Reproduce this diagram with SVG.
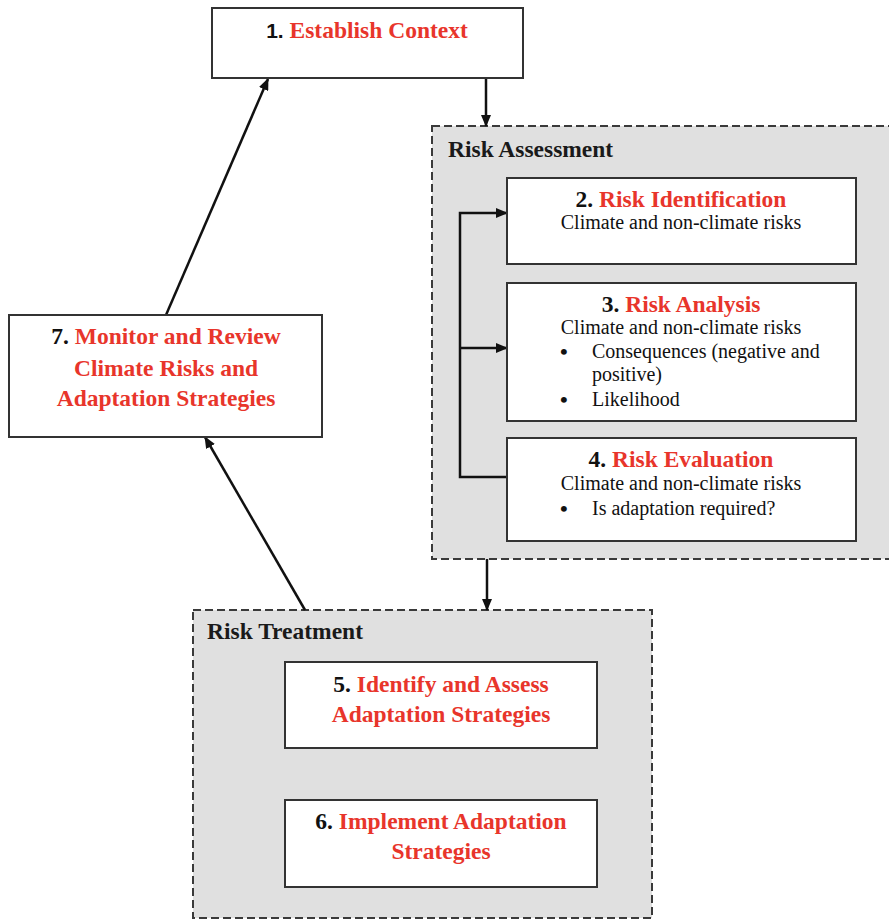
<svg xmlns="http://www.w3.org/2000/svg" width="889" height="920" viewBox="0 0 889 920">
  <style>
    .box { fill: #ffffff; stroke: #333333; stroke-width: 2; }
    .group { fill: #e0e0e0; stroke: #3a3a3a; stroke-width: 2; stroke-dasharray: 8 4; }
    .link { fill: none; stroke: #111111; stroke-width: 2.5; }
    .head { font-family: "Liberation Serif", "Times New Roman", serif; font-weight: bold; font-size: 23.5px; fill: #e8352b; }
    .num { fill: #111111; }
    .numsans { fill: #111111; font-family: "Liberation Sans", Arial, sans-serif; font-size: 21px; }
    .label { font-family: "Liberation Serif", "Times New Roman", serif; font-weight: bold; font-size: 23.5px; fill: #1a1a1a; }
    .sub { font-family: "Liberation Serif", "Times New Roman", serif; font-size: 20px; fill: #111111; }
    .dot { font-family: "Liberation Serif", "Times New Roman", serif; font-size: 22px; font-weight: bold; fill: #111111; }
  </style>
  <defs>
    <marker id="arrow" markerUnits="userSpaceOnUse" markerWidth="12" markerHeight="10" refX="11" refY="5" orient="auto">
      <path d="M0,0 L12,5 L0,10 Z" fill="#111111"/>
    </marker>
  </defs>

  <rect width="889" height="920" fill="#ffffff"/>

  <!-- grouping containers -->
  <g id="risk-assessment">
    <rect class="group" x="432" y="126" width="464" height="433"/>
    <text class="label" x="448" y="157">Risk Assessment</text>
  </g>
  <g id="risk-treatment">
    <rect class="group" x="193" y="610" width="459" height="308"/>
    <text class="label" x="207" y="639">Risk Treatment</text>
  </g>

  <!-- connectors -->
  <g id="connectors">
    <line class="link" x1="486" y1="79" x2="486" y2="126" marker-end="url(#arrow)"/>
    <polyline class="link" points="507,477 460,477 460,213 507,213" marker-end="url(#arrow)"/>
    <line class="link" x1="460" y1="348" x2="507" y2="348" marker-end="url(#arrow)"/>
    <line class="link" x1="487" y1="559" x2="487" y2="610" marker-end="url(#arrow)"/>
    <line class="link" x1="305" y1="610" x2="205" y2="437" marker-end="url(#arrow)"/>
    <line class="link" x1="166" y1="315" x2="268" y2="79" marker-end="url(#arrow)"/>
  </g>

  <!-- step nodes -->
  <g id="step1">
    <rect class="box" x="212" y="8" width="311" height="70"/>
    <text class="head" x="367" y="38" text-anchor="middle"><tspan class="numsans">1. </tspan>Establish Context</text>
  </g>

  <g id="step2">
    <rect class="box" x="507" y="178" width="349" height="86"/>
    <text class="head" x="681" y="207" text-anchor="middle"><tspan class="num">2. </tspan>Risk Identification</text>
    <text class="sub" x="681" y="229" text-anchor="middle">Climate and non-climate risks</text>
  </g>

  <g id="step3">
    <rect class="box" x="507" y="283" width="349" height="138"/>
    <text class="head" x="681" y="312" text-anchor="middle"><tspan class="num">3. </tspan>Risk Analysis</text>
    <text class="sub" x="681" y="334" text-anchor="middle">Climate and non-climate risks</text>
    <text class="dot" x="560" y="359">•</text>
    <text class="sub" x="592" y="358">Consequences (negative and</text>
    <text class="sub" x="592" y="381">positive)</text>
    <text class="dot" x="560" y="407">•</text>
    <text class="sub" x="592" y="406">Likelihood</text>
  </g>

  <g id="step4">
    <rect class="box" x="507" y="438" width="349" height="103"/>
    <text class="head" x="681" y="467" text-anchor="middle"><tspan class="num">4. </tspan>Risk Evaluation</text>
    <text class="sub" x="681" y="490" text-anchor="middle">Climate and non-climate risks</text>
    <text class="dot" x="560" y="516">•</text>
    <text class="sub" x="592" y="515">Is adaptation required?</text>
  </g>

  <g id="step5">
    <rect class="box" x="285" y="662" width="312" height="86"/>
    <text class="head" x="441" y="692" text-anchor="middle"><tspan class="num">5. </tspan>Identify and Assess</text>
    <text class="head" x="441" y="722" text-anchor="middle">Adaptation Strategies</text>
  </g>

  <g id="step6">
    <rect class="box" x="285" y="800" width="312" height="87"/>
    <text class="head" x="441" y="829" text-anchor="middle"><tspan class="num">6. </tspan>Implement Adaptation</text>
    <text class="head" x="441" y="859" text-anchor="middle">Strategies</text>
  </g>

  <g id="step7">
    <rect class="box" x="9" y="315" width="313" height="122"/>
    <text class="head" x="166" y="344" text-anchor="middle"><tspan class="num">7. </tspan>Monitor and Review</text>
    <text class="head" x="166" y="376" text-anchor="middle">Climate Risks and</text>
    <text class="head" x="166" y="406" text-anchor="middle">Adaptation Strategies</text>
  </g>
</svg>
